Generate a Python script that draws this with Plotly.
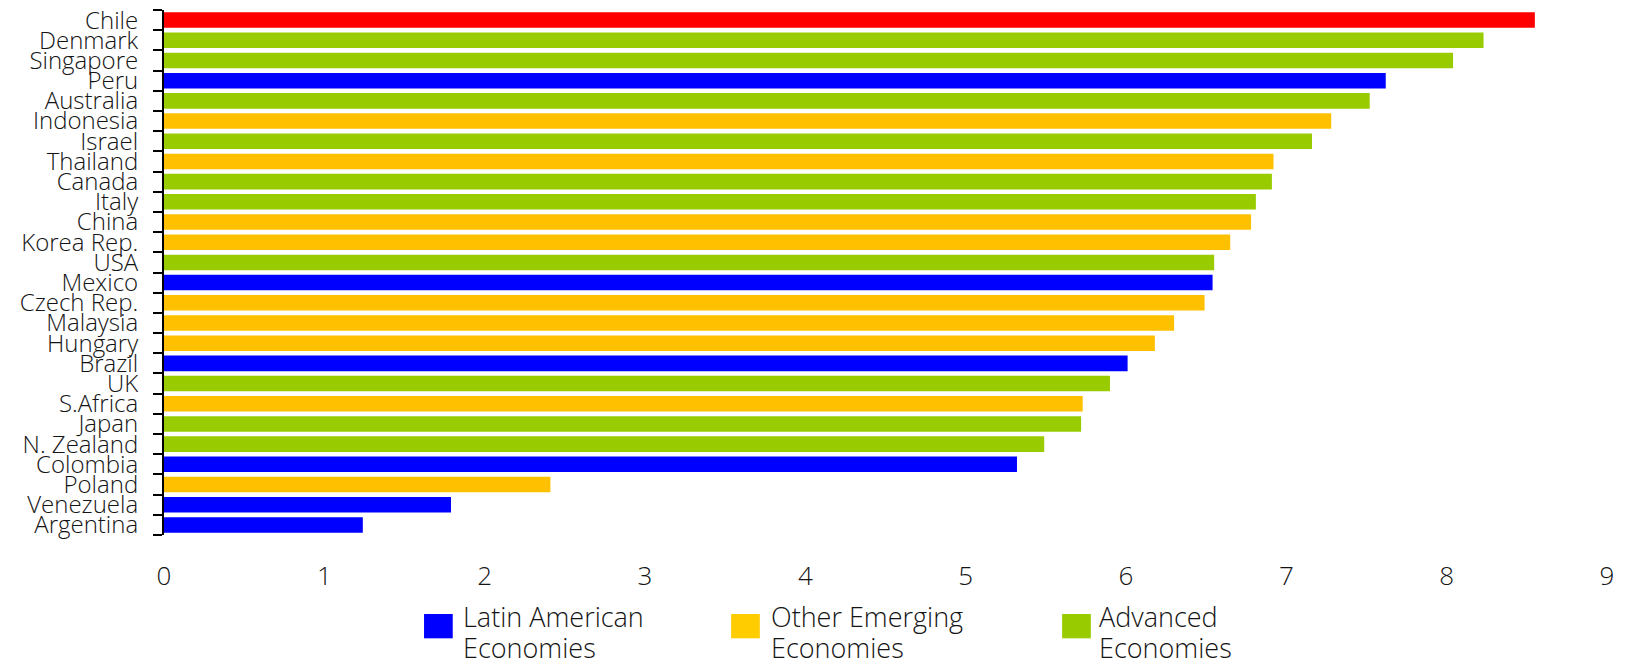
import plotly.graph_objects as go

# Country scores, top to bottom
countries = ["Chile", "Denmark", "Singapore", "Peru", "Australia", "Indonesia", "Israel",
             "Thailand", "Canada", "Italy", "China", "Korea Rep.", "USA", "Mexico",
             "Czech Rep.", "Malaysia", "Hungary", "Brazil", "UK", "S.Africa", "Japan",
             "N. Zealand", "Colombia", "Poland", "Venezuela", "Argentina"]
scores = [8.55, 8.23, 8.04, 7.62, 7.52, 7.28, 7.16,
          6.92, 6.91, 6.81, 6.78, 6.65, 6.55, 6.54,
          6.49, 6.30, 6.18, 6.01, 5.90, 5.73, 5.72,
          5.49, 5.32, 2.41, 1.79, 1.24]
groups = ["Highlight", "Advanced", "Advanced", "Latin", "Advanced", "Emerging", "Advanced",
          "Emerging", "Advanced", "Advanced", "Emerging", "Emerging", "Advanced", "Latin",
          "Emerging", "Emerging", "Emerging", "Latin", "Advanced", "Emerging", "Advanced",
          "Advanced", "Latin", "Emerging", "Latin", "Latin"]

bar_colors = {"Highlight": "#FF0000", "Latin": "#0000FF",
              "Emerging": "#FFC000", "Advanced": "#99CC00"}

legend_lines = [("Latin American", "Economies"), ("Other Emerging", "Economies"),
                ("Advanced", "Economies")]
legend_colors = ["#0000FF", "#FFCC00", "#99CC00"]

x_ticks = list(range(0, 10))

FONT = "Open Sans"
TEXT = "#141414"

fig = go.Figure(go.Bar(
    x=scores,
    y=countries,
    orientation="h",
    marker=dict(color=[bar_colors[g] for g in groups], line=dict(width=0)),
    showlegend=False,
))

# Hand-placed legend below the axis (paper coordinates)
legend_box_x = [0.1802, 0.3930, 0.6224]
legend_text_x = [0.2058, 0.4192, 0.6463]
box_w = 0.0199
line_y = [-0.1560, -0.2140]
shapes = []
annotations = []
for bx, tx, lines, col in zip(legend_box_x, legend_text_x, legend_lines, legend_colors):
    shapes.append(dict(type="rect", xref="paper", yref="paper",
                       x0=bx, x1=bx + box_w, y0=-0.1505, y1=-0.1968,
                       fillcolor=col, line=dict(width=0)))
    for ly, txt in zip(line_y, lines):
        annotations.append(dict(xref="paper", yref="paper", x=tx, y=ly,
                                xanchor="left", yanchor="middle", align="left",
                                text=txt, showarrow=False,
                                font=dict(family=FONT, size=27, color=TEXT, weight=300)))

fig.update_layout(
    width=1627, height=665,
    margin=dict(l=164, r=20, t=10, b=130),
    paper_bgcolor="white", plot_bgcolor="white",
    bargap=0.23,
    font=dict(family=FONT, color=TEXT),
    shapes=shapes,
    annotations=annotations,
    xaxis=dict(range=[0, 9], tickvals=x_ticks, showgrid=False, zeroline=False,
               showline=False, ticks="", ticklabelstandoff=23, automargin=False,
               tickfont=dict(family=FONT, size=26, color=TEXT, weight=300)),
    yaxis=dict(categoryorder="array", categoryarray=countries, autorange="reversed",
               tickmode="array", tickvals=countries, ticktext=countries,
               showgrid=False, zeroline=False, showline=True, linecolor="black",
               linewidth=2, ticks="outside", ticklen=9, tickwidth=2, tickcolor="black",
               tickson="boundaries", ticklabelstandoff=19, automargin=False,
               tickfont=dict(family=FONT, size=24, color=TEXT, weight=300)),
)

fig.write_html("out.html")
